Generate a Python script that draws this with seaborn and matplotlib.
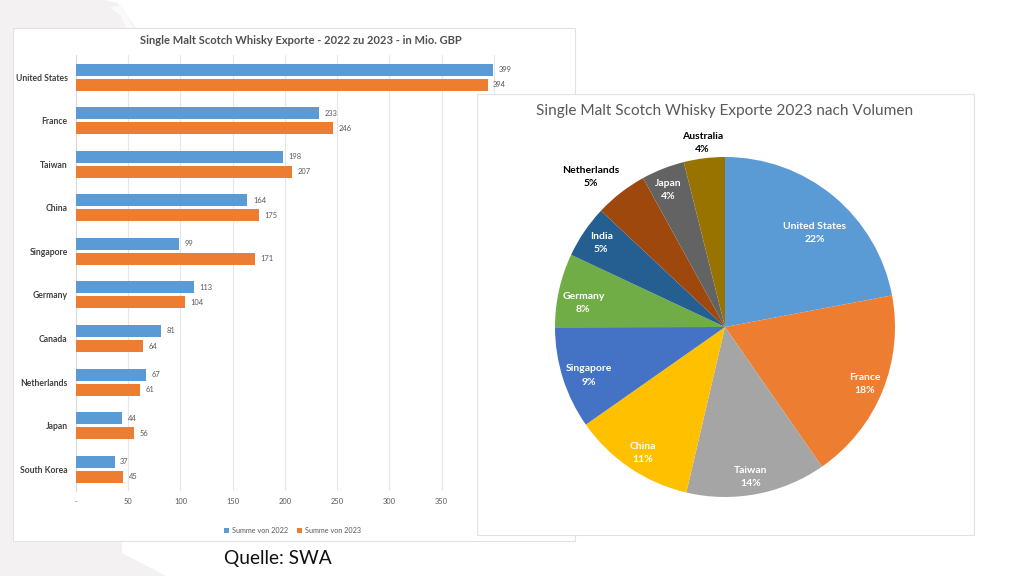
import numpy as np
import pandas as pd
import matplotlib
matplotlib.use("Agg")
import matplotlib.pyplot as plt
from matplotlib.patches import Polygon, Rectangle
import seaborn as sns

countries = ["United States", "France", "Taiwan", "China", "Singapore",
             "Germany", "Canada", "Netherlands", "Japan", "South Korea"]
values_2022 = [399, 233, 198, 164, 99, 113, 81, 67, 44, 37]
values_2023 = [394, 246, 207, 175, 171, 104, 64, 61, 56, 45]
series_names = ["Summe von 2022", "Summe von 2023"]
x_ticks = [0, 50, 100, 150, 200, 250, 300, 350, 400, 450]
x_tick_labels = ["-", "50", "100", "150", "200", "250", "300", "350", "", ""]

pie_names = ["United States", "France", "Taiwan", "China", "Singapore",
             "Germany", "India", "Netherlands", "Japan", "Australia"]
pie_values = [22.0, 18.3, 13.3, 11.6, 9.7, 7.0, 5.0, 5.0, 4.1, 3.9]
pie_shown = ["22%", "18%", "14%", "11%", "9%", "8%", "5%", "5%", "4%", "4%"]
pie_colors = ["#5B9BD5", "#ED7D31", "#A5A5A5", "#FFC000", "#4472C4",
              "#70AD47", "#255E91", "#9E480E", "#636363", "#997300"]
label_radius = [0.765, 0.89, 0.895, 0.884, 0.852, 0.845, 0.88, 1.187, 0.87, 1.09]
label_turn = [4, 0, 1, -1, -2, -3, 0, -4, -1, 0]
label_colors = ["white"] * 7 + ["black", "white", "black"]

W, H = 1024, 576
sns.set_theme(style="white")
plt.rcParams["font.family"] = ["Lato", "DejaVu Sans"]
fig = plt.figure(figsize=(W / 100, H / 100), dpi=100, facecolor="white")


def axes_px(x0, y0, x1, y1, **kw):
    return fig.add_axes([x0 / W, 1 - y1 / H, (x1 - x0) / W, (y1 - y0) / H], **kw)


# slide background and panels, in pixel coordinates
bg = axes_px(0, 0, W, H, zorder=0)
bg.set_xlim(0, W)
bg.set_ylim(H, 0)
bg.axis("off")
bg.add_patch(Polygon([(0, 0), (104, 0), (118, 3), (136, 28), (122, 541), (122, 553),
                      (166, 576), (0, 576)], closed=True, fc="#F3F1F2", ec="none"))
bg.add_patch(Polygon([(110, 7), (122, 5), (126, 14), (134, 28), (126, 28), (120, 15)],
                     closed=True, fc="#FBFAFB", ec="none"))
bg.add_patch(Rectangle((13, 28), 562, 513, fc="white", ec="#E2E2E2", lw=0.8))
bg.text(300.5, 41, "Single Malt Scotch Whisky Exporte - 2022 zu 2023 - in Mio. GBP",
        ha="center", va="center", fontsize=8.05, fontweight="bold", color="#505050")
bg.text(278, 558.5, "Quelle: SWA", ha="center", va="center", fontsize=13.8, color="#111111")

# bar chart
df = pd.DataFrame({
    "Land": countries * 2,
    "Wert": values_2022 + values_2023,
    "Serie": [series_names[0]] * len(countries) + [series_names[1]] * len(countries),
})
ax = axes_px(76, 55.3, 546, 491, zorder=1)
ax.patch.set_alpha(0)
sns.barplot(data=df, y="Land", x="Wert", hue="Serie", order=countries, hue_order=series_names,
            palette=["#5B9BD5", "#ED7D31"], width=0.69, gap=0.2, saturation=1,
            linewidth=0, ax=ax, zorder=3)
ax.set_xlim(0, 450)
ax.set_ylim(len(countries) - 0.5, -0.5)
ax.set_xticks(x_ticks)
ax.set_xticklabels(x_tick_labels)
ax.set_xlabel("")
ax.set_ylabel("")
ax.grid(axis="x", color="#E6E6E6", lw=0.8, zorder=0)
ax.grid(axis="y", visible=False)
ax.set_axisbelow(True)
for s in ["top", "right", "bottom"]:
    ax.spines[s].set_visible(False)
ax.spines["left"].set_color("#D9D9D9")
ax.spines["left"].set_linewidth(0.8)
ax.tick_params(axis="x", length=0, labelsize=5.4, labelcolor="#595959", pad=5)
ax.tick_params(axis="y", length=0, labelsize=6.2, labelcolor="#404040", pad=6)
for lab in ax.get_yticklabels():
    lab.set_fontweight("bold")
for c in ax.containers:
    ax.bar_label(c, padding=4, fontsize=5.4, color="#595959")
leg = ax.legend(loc="center", bbox_to_anchor=(0.46, -0.0897), ncol=2, frameon=False, fontsize=5.2,
                handlelength=0.7, handleheight=0.7, handletextpad=0.4, columnspacing=1.2)
for t in leg.get_texts():
    t.set_color("#595959")

# pie panel
bg2 = axes_px(0, 0, W, H, zorder=2)
bg2.patch.set_alpha(0)
bg2.set_xlim(0, W)
bg2.set_ylim(H, 0)
bg2.axis("off")
bg2.add_patch(Rectangle((477, 93.5), 497, 441.5, fc="white", ec="#E2E2E2", lw=0.8))
bg2.text(725, 111, "Single Malt Scotch Whisky Exporte 2023 nach Volumen",
         ha="center", va="center", fontsize=11.1, color="#595959")

r = 170
pax = axes_px(725 - r, 327 - r, 725 + r, 327 + r, zorder=3)
wedges, _ = pax.pie(pie_values, colors=pie_colors, startangle=90, counterclock=False, radius=1,
                    wedgeprops={"linewidth": 0})
pax.set_xlim(-1, 1)
pax.set_ylim(-1, 1)
for w, name, shown, rad, turn, col in zip(wedges, pie_names, pie_shown, label_radius,
                                          label_turn, label_colors):
    a = np.deg2rad((w.theta1 + w.theta2) / 2 - turn)
    pax.text(rad * np.cos(a), rad * np.sin(a), f"{name}\n{shown}", ha="center", va="center",
             fontsize=7.5, fontweight="bold", color=col, linespacing=1.6, clip_on=False)

fig.savefig("out.png", dpi=100)
